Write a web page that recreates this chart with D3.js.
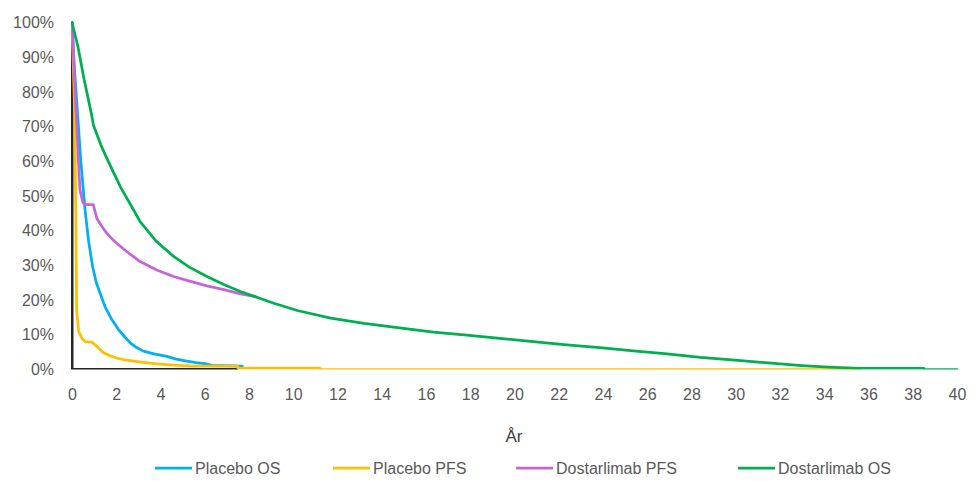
<!DOCTYPE html>
<html>
<head>
<meta charset="utf-8">
<script src="https://cdn.jsdelivr.net/npm/d3@7"></script>
<style>
  html, body { margin: 0; padding: 0; background: #fff; }
  svg { display: block; font-family: "Liberation Sans", Arial, sans-serif; }
</style>
</head>
<body>
<svg id="chart" width="976" height="481"></svg>
<script>
// ---- data (years, percent) ----
const seriesNames = ["Placebo OS", "Placebo PFS", "Dostarlimab PFS", "Dostarlimab OS"];
const xTicks = [0,2,4,6,8,10,12,14,16,18,20,22,24,26,28,30,32,34,36,38,40];
const yTicks = [0,10,20,30,40,50,60,70,80,90,100];
const xTitle = "År";

const placeboOS = [[0,100],[0.1,88],[0.24,74.7],[0.4,60],[0.59,46],[0.75,37],[0.93,29.7],[1.1,25],[1.27,22],[1.5,18],[1.8,14.4],[2.1,11.5],[2.4,9.3],[2.63,7.7],[2.9,6.4],[3.23,5.3],[3.7,4.5],[4.29,3.8],[4.7,3.0],[5.2,2.4],[5.6,2.0],[6.1,1.6],[6.3,1.2],[7.7,1.0]];
const placeboPFS = [[0,100],[0.12,75],[0.17,46],[0.21,17],[0.3,11],[0.44,9.1],[0.51,8.6],[0.6,8.0],[0.9,7.9],[1.12,6.7],[1.42,4.8],[1.7,4.0],[2.02,3.3],[2.4,2.8],[2.78,2.4],[3.3,2.0],[3.84,1.6],[4.4,1.35],[5.04,1.15],[5.5,1.0],[7.5,0.95],[7.5,0.4],[11.2,0.4],[11.2,0],[35.6,0]];
const dostarlimabPFS = [[0,100],[0.18,74.7],[0.29,60.3],[0.36,51.7],[0.44,49.6],[0.5,48],[0.66,47.5],[0.96,47.5],[1.12,43.6],[1.35,41.2],[1.57,39.3],[1.8,37.7],[2.02,36.4],[2.47,34],[3.08,31.1],[3.83,28.7],[4.59,26.8],[5.35,25.4],[6.1,24.1],[6.86,23],[7.61,21.8],[8.3,21.0]];
const dostarlimabOS = [[0,100],[0.27,93],[0.55,83.5],[0.89,73.3],[0.97,70.4],[1.35,64],[1.72,58.9],[2.2,52.5],[2.7,46.9],[3.08,42.6],[3.8,37],[4.59,32.6],[5.3,29.5],[6.1,26.8],[6.86,24.5],[7.61,22.5],[8.67,20.1],[9.12,19.1],[10.18,17],[11.69,14.8],[13.2,13.3],[14.8,12.0],[16.33,10.8],[17.84,9.9],[19.34,9.0],[20.85,8.0],[22.36,7.1],[23.86,6.3],[25.37,5.4],[26.9,4.5],[28.4,3.5],[29.96,2.7],[31.47,1.9],[32.98,1.15],[34.2,0.67],[35.6,0.3],[38.5,0.3],[38.5,0],[40,0]];
const blackFrame = [[0,100],[0,0],[7.5,0]];

const colors = ["#00B0F0", "#FFC000", "#C466D8", "#00B050"];

// ---- layout ----
const svg = d3.select("#chart");
const x = d3.scaleLinear().domain([0, 40]).range([72, 957]);
const y = d3.scaleLinear().domain([0, 100]).range([369.5, 22.5]);

svg.append("defs").append("clipPath").attr("id", "plotClip")
  .append("rect").attr("x", 71).attr("y", 0).attr("width", 900).attr("height", 369.5);

const line = d3.line().x(d => x(d[0])).y(d => y(d[1]));
const plot = svg.append("g").attr("clip-path", "url(#plotClip)");

plot.append("path").datum(blackFrame).attr("d", line)
  .attr("fill", "none").attr("stroke", "#262626").attr("stroke-width", 3).attr("stroke-linejoin", "miter");

const allSeries = [placeboOS, placeboPFS, dostarlimabPFS, dostarlimabOS];
allSeries.forEach((s, i) => {
  plot.append("path").datum(s).attr("d", line)
    .attr("fill", "none").attr("stroke", colors[i]).attr("stroke-width", 2.75)
    .attr("stroke-linejoin", "round").attr("stroke-linecap", "round");
});

// ---- axes ----
const xAxis = d3.axisBottom(x).tickValues(xTicks).tickSize(0).tickPadding(0).tickFormat(d3.format("d"));
const gx = svg.append("g").attr("transform", "translate(0,389)").call(xAxis);
gx.select(".domain").remove();
gx.selectAll("text").attr("fill", "#595959").attr("font-size", 16).attr("dy", "0.71em")
  .attr("font-family", "Liberation Sans, Arial, sans-serif");

const yAxis = d3.axisLeft(y).tickValues(yTicks).tickSize(0).tickPadding(0).tickFormat(d => d + "%");
const gy = svg.append("g").attr("transform", "translate(54,0)").call(yAxis);
gy.select(".domain").remove();
gy.selectAll("text").attr("fill", "#595959").attr("font-size", 16)
  .attr("font-family", "Liberation Sans, Arial, sans-serif");

svg.append("text").attr("x", 514).attr("y", 442).attr("text-anchor", "middle")
  .attr("font-size", 17).attr("fill", "#404040").text(xTitle);

// ---- legend ----
const legendX = [155, 333, 516, 738];
const lg = svg.append("g");
seriesNames.forEach((n, i) => {
  const g = lg.append("g").attr("transform", `translate(${legendX[i]},468)`);
  g.append("line").attr("x1", 0).attr("x2", 37).attr("y1", 0).attr("y2", 0)
    .attr("stroke", colors[i]).attr("stroke-width", 2.75);
  g.append("text").attr("x", 40).attr("y", 0).attr("dy", "0.35em")
    .attr("font-size", 16).attr("fill", "#595959").text(n);
});
</script>
</body>
</html>
